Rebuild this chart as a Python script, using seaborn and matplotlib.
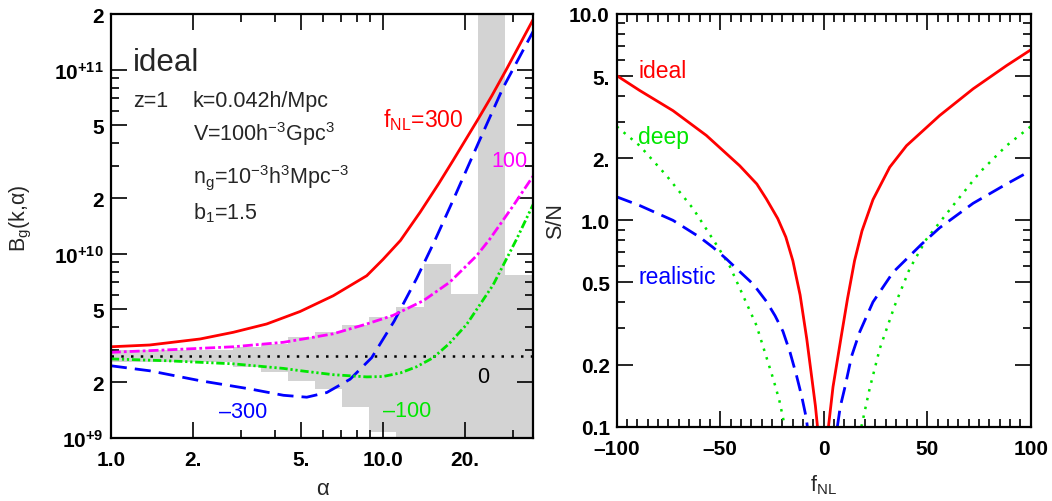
import matplotlib
matplotlib.use("Agg")
import matplotlib.pyplot as plt
import seaborn as sns
from matplotlib.ticker import NullFormatter

# ---- left panel: B_g(k, alpha) for several f_NL ----
alpha_p300 = [1.0, 1.39, 2.13, 2.82, 3.74, 4.96, 6.57, 8.72, 10.0, 11.6, 13.7, 16.0, 18.1, 22.4,
              25.1, 28.5, 35.7]
bg_p300 = [3.12e9, 3.19e9, 3.44e9, 3.74e9, 4.15e9, 4.85e9, 5.91e9, 7.59e9, 9.3e9, 1.18e10,
           1.68e10, 2.39e10, 3.21e10, 5.40e10, 7.19e10, 1.01e11, 1.88e11]

alpha_m300 = [1.0, 1.39, 2.13, 3.25, 4.31, 5.25, 6.22, 7.58, 9.09, 11.0, 13.3, 15.5, 18.1, 22.4,
              27.6, 35.7]
bg_m300 = [2.46e9, 2.31e9, 2.04e9, 1.84e9, 1.70e9, 1.66e9, 1.76e9, 2.08e9, 2.72e9, 4.3e9,
           7.33e9, 1.175e10, 1.95e10, 3.98e10, 7.94e10, 1.62e11]

alpha_p100 = [1.0, 1.60, 2.82, 4.31, 5.10, 6.57, 8.72, 10.9, 14.1, 17.6, 22.1, 24.7, 30.1, 35.7]
bg_p100 = [2.91e9, 3.0e9, 3.12e9, 3.30e9, 3.44e9, 3.67e9, 4.15e9, 4.62e9, 5.56e9, 7.0e9,
           9.75e9, 1.2e10, 1.82e10, 2.65e10]

alpha_m100 = [1.0, 1.60, 2.82, 4.31, 5.0, 6.57, 8.72, 10.0, 11.6, 13.3, 15.3, 17.5, 20.3, 25.4,
              31.0, 35.7]
bg_m100 = [2.68e9, 2.62e9, 2.52e9, 2.38e9, 2.31e9, 2.20e9, 2.14e9, 2.15e9, 2.25e9, 2.43e9,
           2.72e9, 3.24e9, 4.12e9, 6.76e9, 1.20e10, 1.86e10]

bg_zero = 2.78e9

# grey band (binned), upper / lower edge of each bin
bin_edges = [1.0, 2.82, 3.55, 4.47, 5.62, 7.08, 8.91, 11.2, 14.1, 17.8, 22.4, 28.2, 35.7]
band_hi = [3.01e9, 3.10e9, 3.23e9, 3.51e9, 3.77e9, 4.10e9, 4.51e9, 5.11e9, 8.79e9, 6.04e9, 1e12, 7.66e9]
band_lo = [2.57e9, 2.41e9, 2.27e9, 2.04e9, 1.84e9, 1.47e9, 1.07e9, 1e8, 1e8, 1e8, 1e8, 1e8]

# ---- right panel: S/N vs f_NL ----
fnl_ideal_l = [-100, -88.9, -72.8, -56.7, -40.6, -32.3, -27.7, -22.2, -18.3, -14.9, -11.4, -8.2,
               -5.7, -4.0, -3.0]
sn_ideal_l = [5.03, 4.26, 3.40, 2.58, 1.84, 1.50, 1.27, 1.02, 0.83, 0.637, 0.435, 0.267,
              0.171, 0.126, 0.10]
fnl_ideal_r = [2.3, 4.5, 8.5, 11.5, 14.9, 18.5, 23.8, 31.9, 40.0, 56.0, 72.2, 88.3, 100]
sn_ideal_r = [0.10, 0.156, 0.275, 0.417, 0.637, 0.889, 1.26, 1.81, 2.30, 3.22, 4.34, 5.62, 6.70]

fnl_deep_l = [-100, -88.9, -76.0, -63.1, -51.0, -45.4, -40.6, -32.5, -24.5, -21.5, -19.2, -18.7]
sn_deep_l = [2.85, 2.30, 1.65, 1.14, 0.74, 0.60, 0.47, 0.31, 0.172, 0.135, 0.105, 0.10]
fnl_deep_r = [18.2, 22.2, 27.1, 34.3, 41.5, 49.6, 62.5, 75.4, 88.3, 100]
sn_deep_r = [0.10, 0.153, 0.239, 0.386, 0.582, 0.81, 1.18, 1.71, 2.30, 2.85]

fnl_real_l = [-100, -88.9, -72.8, -60, -53.5, -47, -40.6, -34, -27.7, -23.5, -19.7, -16.3, -13.2,
              -10.6, -8.4, -7.9]
sn_real_l = [1.30, 1.18, 1.0, 0.83, 0.74, 0.65, 0.565, 0.49, 0.405, 0.345, 0.29, 0.23, 0.178,
             0.14, 0.11, 0.10]
fnl_real_r = [6.6, 8.0, 10.1, 13.5, 17.4, 23.8, 33.5, 47.2, 56.0, 72.2, 88.3, 100]
sn_real_r = [0.10, 0.125, 0.153, 0.22, 0.288, 0.402, 0.56, 0.765, 0.92, 1.21, 1.50, 1.74]

sns.set_style("ticks")
plt.rcParams["font.family"] = ["Liberation Sans", "DejaVu Sans"]
plt.rcParams["mathtext.fontset"] = "custom"
plt.rcParams["mathtext.rm"] = "Liberation Sans"
plt.rcParams["mathtext.it"] = "Liberation Sans"
plt.rcParams["mathtext.bf"] = "Liberation Sans:bold"
plt.rcParams["mathtext.default"] = "regular"
plt.rcParams["axes.linewidth"] = 1.6

RED, BLUE, GREEN, MAGENTA = "#ff0000", "#0000ff", "#00e600", "#ff00ff"

fig = plt.figure(figsize=(10.52, 5.02), dpi=100)
ax1 = fig.add_axes([110.8 / 1052, 1 - 438.7 / 502, 422.5 / 1052, 423.4 / 502])
ax2 = fig.add_axes([616.7 / 1052, 1 - 427.7 / 502, 414 / 1052, 412.7 / 502])

# ---------- left panel ----------
ax1.fill_between(bin_edges, band_lo + [band_lo[-1]], band_hi + [band_hi[-1]],
                 step="post", color="#d3d3d3", lw=0, zorder=0)
ax1.axhline(bg_zero, color="black", lw=1.8, ls=(0, (1, 2.9)), zorder=2)
sns.lineplot(x=alpha_p300, y=bg_p300, ax=ax1, color=RED, lw=2, sort=False, estimator=None)
sns.lineplot(x=alpha_m300, y=bg_m300, ax=ax1, color=BLUE, lw=2, ls=(0, (5.8, 2.9)),
             sort=False, estimator=None)
sns.lineplot(x=alpha_p100, y=bg_p100, ax=ax1, color=MAGENTA, lw=2, ls=(0, (3.6, 1.1, 1, 1.1)),
             sort=False, estimator=None)
sns.lineplot(x=alpha_m100, y=bg_m100, ax=ax1, color=GREEN, lw=2,
             ls=(0, (3, 1, 0.8, 1, 0.8, 1)), sort=False, estimator=None)

ax1.set_xscale("log")
ax1.set_yscale("log")
ax1.set_xlim(1.0, 35.7)
ax1.set_ylim(1e9, 2e11)
ax1.set_xticks([1, 2, 5, 10, 20], ["1.0", "2.", "5.", "10.0", "20."])
ax1.set_xticks([3, 4, 6, 7, 8, 9, 30], minor=True)
ax1.set_yticks([1e9, 2e9, 5e9, 1e10, 2e10, 5e10, 1e11, 2e11],
               [r"$\mathbf{10^{+9}}$", "2", "5", r"$\mathbf{10^{+10}}$", "2", "5",
                r"$\mathbf{10^{+11}}$", "2"])
ax1.set_yticks([k * 1e9 for k in (3, 4, 6, 7, 8, 9)] + [k * 1e10 for k in (3, 4, 6, 7, 8, 9)],
               minor=True)
ax1.xaxis.set_minor_formatter(NullFormatter())
ax1.yaxis.set_minor_formatter(NullFormatter())
ax1.set_xlabel("α", fontsize=16)
ax1.set_ylabel("B$_g$(k,α)", fontsize=15.5)
ax1.xaxis.set_label_coords(0.5, -0.095)
ax1.yaxis.set_label_coords(-0.182, 0.52)

t = ax1.transAxes
ax1.text(0.052, 0.868, "ideal", fontsize=22.5, transform=t, va="baseline")
ax1.text(0.052, 0.784, "z=1", fontsize=15.5, transform=t, va="baseline")
ax1.text(0.194, 0.784, "k=0.042h/Mpc", fontsize=15.5, transform=t, va="baseline")
ax1.text(0.194, 0.704, "V=100h$^{-3}$Gpc$^3$", fontsize=15.5, transform=t, va="baseline")
ax1.text(0.194, 0.603, "n$_g$=10$^{-3}$h$^3$Mpc$^{-3}$", fontsize=15.5, transform=t, va="baseline")
ax1.text(0.194, 0.517, "b$_1$=1.5", fontsize=15.5, transform=t, va="baseline")
ax1.text(0.645, 0.737, "f$_{NL}$=300", fontsize=16.5, color=RED, transform=t, va="baseline")
ax1.text(0.9015, 0.642, "100", fontsize=15.5, color=MAGENTA, transform=t, va="baseline")
ax1.text(0.866, 0.131, "0", fontsize=15.5, color="black", transform=t, va="baseline")
ax1.text(0.6435, 0.052, "–100", fontsize=15.5, color=GREEN, transform=t, va="baseline")
ax1.text(0.257, 0.048, "–300", fontsize=15.5, color=BLUE, transform=t, va="baseline")

# ---------- right panel ----------
for fx, sy in [(fnl_ideal_l, sn_ideal_l), (fnl_ideal_r, sn_ideal_r)]:
    sns.lineplot(x=fx, y=sy, ax=ax2, color=RED, lw=2, sort=False, estimator=None)
for fx, sy in [(fnl_deep_l, sn_deep_l), (fnl_deep_r, sn_deep_r)]:
    sns.lineplot(x=fx, y=sy, ax=ax2, color=GREEN, lw=1.8, ls=(0, (1, 2.6)),
                 sort=False, estimator=None)
for fx, sy in [(fnl_real_l, sn_real_l), (fnl_real_r, sn_real_r)]:
    sns.lineplot(x=fx, y=sy, ax=ax2, color=BLUE, lw=2, ls=(0, (5.8, 2.9)),
                 sort=False, estimator=None)

ax2.set_yscale("log")
ax2.set_xlim(-100, 100)
ax2.set_ylim(0.1, 10)
ax2.set_xticks([-100, -50, 0, 50, 100], ["–100", "–50", "0", "50", "100"])
ax2.set_xticks(list(range(-95, 100, 5)), minor=True)
ax2.set_yticks([0.1, 0.2, 0.5, 1, 2, 5, 10], ["0.1", "0.2", "0.5", "1.0", "2.", "5.", "10.0"])
ax2.set_yticks([0.3, 0.4, 0.6, 0.7, 0.8, 0.9, 3, 4, 6, 7, 8, 9], minor=True)
ax2.yaxis.set_minor_formatter(NullFormatter())
ax2.set_xlabel("f$_{NL}$", fontsize=15.5)
ax2.set_ylabel("S/N", fontsize=15.5)
ax2.xaxis.set_label_coords(0.5, -0.11)
ax2.yaxis.set_label_coords(-0.122, 0.5)

t2 = ax2.transAxes
ax2.text(0.052, 0.847, "ideal", fontsize=16.5, color=RED, transform=t2, va="baseline")
ax2.text(0.052, 0.687, "deep", fontsize=16.5, color=GREEN, transform=t2, va="baseline")
ax2.text(0.052, 0.348, "realistic", fontsize=16.5, color=BLUE, transform=t2, va="baseline")

for ax in (ax1, ax2):
    ax.tick_params(which="both", direction="in", top=True, right=True, width=1.2,
                   labelsize=15, colors="black")
    ax.tick_params(which="major", length=11.5)
    ax.tick_params(which="minor", length=6)
    ax.tick_params(axis="x", pad=9)
    ax.tick_params(axis="y", pad=5)
    for lab in ax.get_xticklabels() + ax.get_yticklabels():
        lab.set_fontweight("bold")
    for s in ax.spines.values():
        s.set_color("black")

fig.savefig("out.png", dpi=100)
